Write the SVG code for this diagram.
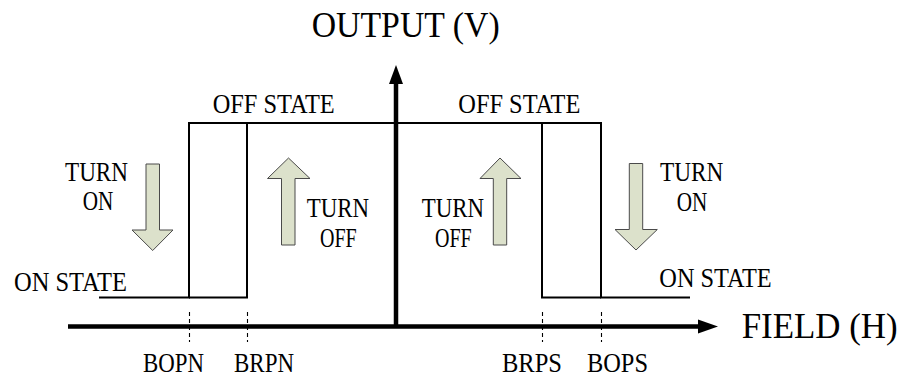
<svg xmlns="http://www.w3.org/2000/svg" width="904" height="376" viewBox="0 0 904 376">
<style>
text{font-family:"Liberation Serif","Times New Roman",serif;fill:#000}
.big{font-size:35px}
.lbl{font-size:27px}
.wave{fill:none;stroke:#000;stroke-width:2}
.axis{stroke:#000;stroke-width:4.5;fill:none}
.dash{stroke:#000;stroke-width:1.1;stroke-dasharray:4 3}
.blk{fill:#000}
.fat{fill:#dce1cb;stroke:#4a4a4a;stroke-width:1}
</style>
<rect width="904" height="376" fill="#fff"/>
<g id="connectors">
<g id="axes">
<line class="axis" x1="396" y1="80" x2="396" y2="328"/>
<polygon class="blk" points="396,65 389,84 403,84"/>
<line class="axis" x1="68" y1="326.5" x2="700" y2="326.5"/>
<polygon class="blk" points="718,326.5 698,319.5 698,333.5"/>
</g>
<g id="waveform">
<polyline class="wave" points="99,297.5 189,297.5 189,123 601,123 601,297.5 690,297.5"/>
<polyline class="wave" points="189,297.5 247,297.5 247,123"/>
<polyline class="wave" points="542,123 542,297.5 601,297.5"/>
</g>
<g id="markers">
<line class="dash" x1="189.5" y1="312" x2="189.5" y2="342"/>
<line class="dash" x1="247.5" y1="312" x2="247.5" y2="342"/>
<line class="dash" x1="542.5" y1="312" x2="542.5" y2="342"/>
<line class="dash" x1="601.5" y1="312" x2="601.5" y2="342"/>
</g>
</g>
<g id="arrow-turn-on-left">
<polygon class="fat" points="146,164 159.5,164 159.5,230 173,230 152.7,250.5 132,230 146,230"/>
<text class="lbl" x="65" y="180.7" textLength="63" lengthAdjust="spacingAndGlyphs">TURN</text>
<text class="lbl" x="82.7" y="210" textLength="30.6" lengthAdjust="spacingAndGlyphs">ON</text>
</g>
<g id="arrow-turn-off-left">
<polygon class="fat" points="288.5,158 310,178.5 295,178.5 295,245 281.5,245 281.5,178.5 267.5,178.5"/>
<text class="lbl" x="306.7" y="216.7" textLength="62.3" lengthAdjust="spacingAndGlyphs">TURN</text>
<text class="lbl" x="320" y="247" textLength="36.7" lengthAdjust="spacingAndGlyphs">OFF</text>
</g>
<g id="arrow-turn-off-right">
<polygon class="fat" points="500,158 521,178.5 506.7,178.5 506.7,245 493.3,245 493.3,178.5 480,178.5"/>
<text class="lbl" x="421.7" y="216.7" textLength="62.3" lengthAdjust="spacingAndGlyphs">TURN</text>
<text class="lbl" x="435" y="247" textLength="36.7" lengthAdjust="spacingAndGlyphs">OFF</text>
</g>
<g id="arrow-turn-on-right">
<polygon class="fat" points="629.3,163.5 642.7,163.5 642.7,229.5 657.3,229.5 636,250 615,229.5 629.3,229.5"/>
<text class="lbl" x="660" y="180.7" textLength="63.3" lengthAdjust="spacingAndGlyphs">TURN</text>
<text class="lbl" x="676.7" y="211" textLength="30.6" lengthAdjust="spacingAndGlyphs">ON</text>
</g>
<g id="labels">
<text class="big" x="311.7" y="37" textLength="188" lengthAdjust="spacingAndGlyphs">OUTPUT (V)</text>
<text class="big" x="741.7" y="338" textLength="156" lengthAdjust="spacingAndGlyphs">FIELD (H)</text>
<text class="lbl" x="212.7" y="113.3" textLength="122" lengthAdjust="spacingAndGlyphs">OFF STATE</text>
<text class="lbl" x="458.3" y="113.3" textLength="122" lengthAdjust="spacingAndGlyphs">OFF STATE</text>
<text class="lbl" x="14" y="290.5" textLength="113" lengthAdjust="spacingAndGlyphs">ON STATE</text>
<text class="lbl" x="659.3" y="287.3" textLength="112.4" lengthAdjust="spacingAndGlyphs">ON STATE</text>
<text class="lbl" x="143" y="371.5" textLength="61" lengthAdjust="spacingAndGlyphs">BOPN</text>
<text class="lbl" x="234" y="371.5" textLength="60" lengthAdjust="spacingAndGlyphs">BRPN</text>
<text class="lbl" x="502" y="371.5" textLength="60" lengthAdjust="spacingAndGlyphs">BRPS</text>
<text class="lbl" x="587" y="371.5" textLength="61" lengthAdjust="spacingAndGlyphs">BOPS</text>
</g>
</svg>
